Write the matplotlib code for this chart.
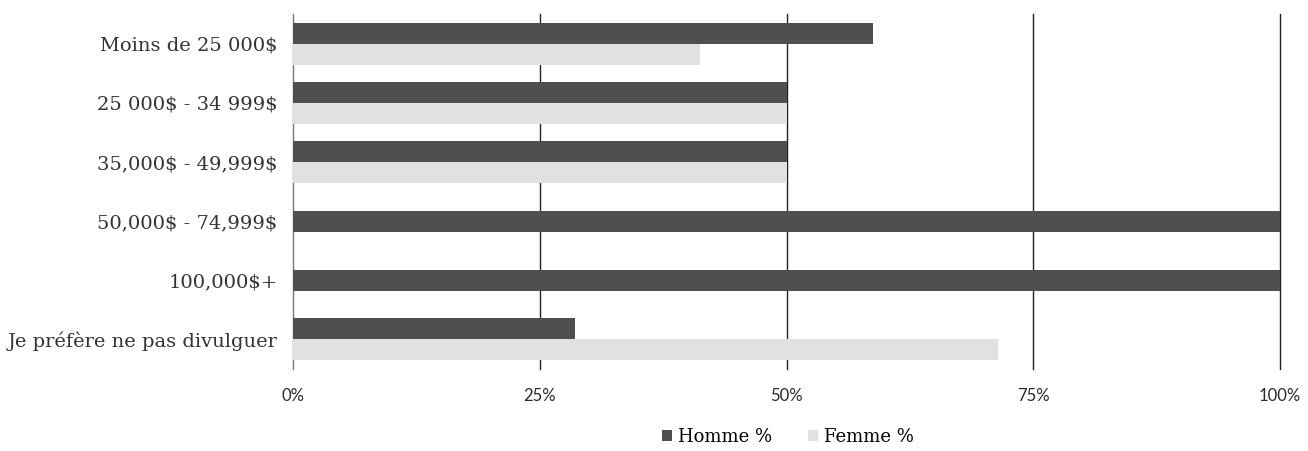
import matplotlib
matplotlib.use("Agg")
import matplotlib.pyplot as plt
from matplotlib.patches import Patch

plt.rcParams["text.parse_math"] = False

# Income brackets and share of respondents by gender (percent)
categories = [
    "Moins de 25 000$",
    "25 000$ - 34 999$",
    "35,000$ - 49,999$",
    "50,000$ - 74,999$",
    "100,000$+",
    "Je préfère ne pas divulguer",
]
homme = [58.8, 50.0, 50.0, 100.0, 100.0, 28.6]
femme = [41.2, 50.0, 50.0, 0.0, 0.0, 71.4]
series_names = ["Homme %", "Femme %"]
x_ticks = [0, 25, 50, 75, 100]
x_tick_labels = ["0%", "25%", "50%", "75%", "100%"]

dark = "#4f4f51"
light = "#e0e1e3"
serif = ["DejaVu Serif"]
sans = ["Lato", "DejaVu Sans"]

fig = plt.figure(figsize=(13.08, 4.51), dpi=100)
ax = fig.add_axes([293 / 1308, 1 - 369 / 451, (1280 - 293) / 1308, (369 - 14) / 451])

bar_h = 0.355
for i, (h, f) in enumerate(zip(homme, femme)):
    if f > 0:
        ax.barh(i - bar_h / 2, h, height=bar_h, color=dark, zorder=3)
        ax.barh(i + bar_h / 2, f, height=bar_h, color=light, zorder=3)
    else:
        ax.barh(i, h, height=bar_h, color=dark, zorder=3)

ax.set_ylim(len(categories) - 0.5, -0.5)
ax.set_xlim(0, 100)

ax.set_yticks(range(len(categories)))
ax.set_yticklabels(categories, fontfamily=serif, fontsize=14, color="#333333")
ax.tick_params(axis="y", length=0, pad=11)

ax.set_xticks(x_ticks)
ax.set_xticklabels(x_tick_labels, fontfamily=sans, fontsize=12, color="#2a2a2a")
ax.tick_params(axis="x", length=0, pad=14)

for v in x_ticks:
    ax.axvline(v, color="#777777" if v == 0 else "#222222", linewidth=1.0,
               zorder=1, clip_on=False)

for s in ax.spines.values():
    s.set_visible(False)

handles = [Patch(facecolor=dark, edgecolor="none"), Patch(facecolor=light, edgecolor="none")]
fig.legend(handles, series_names, loc="center", bbox_to_anchor=(788 / 1308, 1 - 437 / 451),
           ncol=2, frameon=False, handlelength=0.55, handleheight=0.55, handletextpad=0.35,
           columnspacing=2.0, prop={"family": serif, "size": 13})

fig.savefig("out.png", dpi=100)
